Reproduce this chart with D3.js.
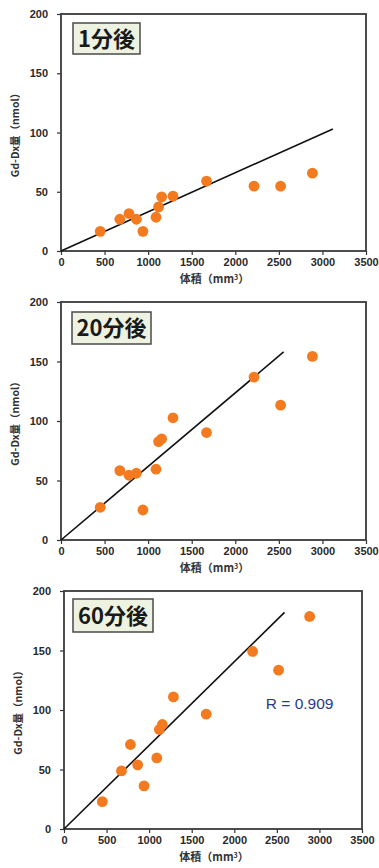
<!DOCTYPE html>
<html>
<head>
<meta charset="utf-8">
<script src="https://cdn.jsdelivr.net/npm/d3@7"></script>
<style>
  html, body { margin: 0; padding: 0; background: #fff; }
  svg { display: block; }
</style>
</head>
<body>
<div id="chart"></div>
<script>
// Tumour volume (mm3) for each sample, same in all three panels
const volumes = [450, 675, 780, 865, 940, 1090, 1120, 1155, 1285, 1670, 2215, 2520, 2885];

// Gd-Dx amount (nmol) after 1, 20 and 60 minutes
const gd1min  = [16.6, 26.8, 31.6, 26.8, 16.6, 28.5, 37.2, 45.7, 46.3, 59, 54.7, 54.7, 65.7];
const gd20min = [27.5, 58.3, 54.4, 56.1, 25.2, 59.5, 82.7, 85, 102.7, 90.3, 136.9, 113.3, 154.3];
const gd60min = [23, 48.8, 71, 53.9, 36.2, 59.7, 83.6, 87.8, 111, 96.5, 149.2, 133.5, 178.6];

// regression lines through the origin, end point
const trendEnds = [[3120, 103], [2555, 158], [2590, 182]];

const panelLabels = ["1分後", "20分後", "60分後"];
const xTicks = [0, 500, 1000, 1500, 2000, 2500, 3000, 3500];
const yTicks = [0, 50, 100, 150, 200];
const rText = "R = 0.909";

const series = [gd1min, gd20min, gd60min];

// plot frames on the page
const frames = [
    { left: 61, top: 14, right: 366, bottom: 251, box: [12, 9, 67, 31] },
    { left: 61, top: 302, right: 366, bottom: 540, box: [11, 10, 79, 32] },
    { left: 64, top: 591, right: 362, bottom: 829, box: [9, 8, 80, 33] }
];

const width = 379, height = 868;
const svg = d3.select('#chart').append('svg')
    .attr('width', width)
    .attr('height', height);

const labelFont = "'Liberation Sans', Arial, sans-serif";
const cjkFont = "'Noto Sans CJK JP', 'Liberation Sans', sans-serif";

frames.forEach((f, i) => {
    const x = d3.scaleLinear().domain([0, 3500]).range([f.left, f.right]);
    const y = d3.scaleLinear().domain([0, 200]).range([f.bottom, f.top]);
    const g = svg.append('g');

    // x axis
    const xAxis = g.append('g')
        .attr('transform', `translate(0,${f.bottom})`)
        .call(d3.axisBottom(x).tickValues(xTicks).tickFormat(d3.format('d'))
            .tickSize(4).tickSizeOuter(0).tickPadding(3));
    // y axis
    const yAxis = g.append('g')
        .attr('transform', `translate(${f.left},0)`)
        .call(d3.axisLeft(y).tickValues(yTicks).tickFormat(d3.format('d'))
            .tickSize(4).tickSizeOuter(0).tickPadding(9));

    [xAxis, yAxis].forEach(ax => {
        ax.select('.domain').remove();
        ax.selectAll('line').attr('stroke', '#333').attr('stroke-width', 1.2);
        ax.selectAll('text')
            .attr('fill', '#2a2a2a')
            .attr('font-weight', 'bold')
            .style('font-family', labelFont)
            .style('font-weight', 'bold')
            .style('font-size', '11px');
    });

    // frame
    g.append('rect')
        .attr('x', f.left)
        .attr('y', f.top)
        .attr('width', f.right - f.left)
        .attr('height', f.bottom - f.top)
        .attr('fill', 'none')
        .attr('stroke', '#3a3a3a')
        .attr('stroke-width', 1.8);

    // trend line
    const end = trendEnds[i];
    g.append('line')
        .attr('x1', x(0)).attr('y1', y(0))
        .attr('x2', x(end[0])).attr('y2', y(end[1]))
        .attr('stroke', '#111')
        .attr('stroke-width', 1.6);

    // points
    g.selectAll('circle.pt')
        .data(volumes.map((v, j) => [v, series[i][j]]))
        .enter()
        .append('circle')
        .attr('class', 'pt')
        .attr('cx', d => x(d[0]))
        .attr('cy', d => y(d[1]))
        .attr('r', 5.4)
        .attr('fill', '#f47a1f');

    // label box
    const b = f.box;
    g.append('rect')
        .attr('x', f.left + b[0])
        .attr('y', f.top + b[1])
        .attr('width', b[2])
        .attr('height', b[3])
        .attr('fill', '#edf2e1')
        .attr('stroke', '#4a4a4a')
        .attr('stroke-width', 1.5);
    g.append('text')
        .attr('x', f.left + b[0] + b[2] / 2)
        .attr('y', f.top + b[1] + b[3] / 2 + 8)
        .attr('text-anchor', 'middle')
        .attr('fill', '#1a1a1a')
        .style('font-family', cjkFont)
        .style('font-weight', 'bold')
        .style('font-size', '22px')
        .text(panelLabels[i]);

    // axis titles
    g.append('text')
        .attr('transform', `translate(${f.left - 42},${(f.top + f.bottom) / 2}) rotate(-90)`)
        .attr('text-anchor', 'middle')
        .attr('fill', '#333')
        .style('font-family', cjkFont)
        .style('font-weight', 'bold')
        .style('font-size', '10.5px')
        .text('Gd-Dx量（nmol）');

    const xt = g.append('text')
        .attr('x', (f.left + f.right) / 2 + 1)
        .attr('y', f.bottom + 32)
        .attr('text-anchor', 'middle')
        .attr('fill', '#333')
        .style('font-family', cjkFont)
        .style('font-weight', 'bold')
        .style('font-size', '11px');
    xt.append('tspan').text('体積（mm');
    xt.append('tspan').style('font-size', '7px').attr('dy', -3).text('3');
    xt.append('tspan').attr('dy', 3).text('）');

    if (i === 2) {
        g.append('text')
            .attr('x', x(2370))
            .attr('y', y(100) - 1)
            .attr('fill', '#2e3a8c')
            .style('font-family', labelFont)
            .style('font-size', '15.5px')
            .text(rText);
    }
});
</script>
</body>
</html>
